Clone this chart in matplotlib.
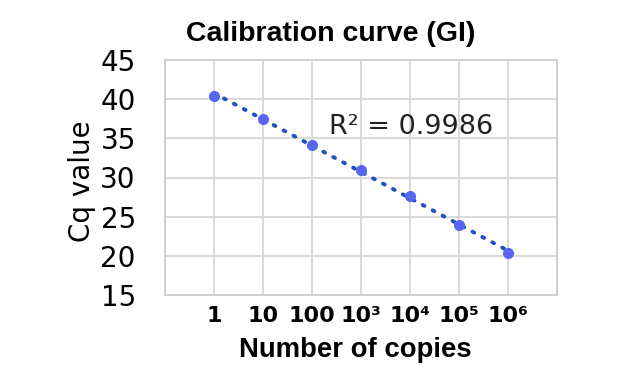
import numpy as np
import matplotlib
matplotlib.use("Agg")
import matplotlib.pyplot as plt

categories = ["1", "10", "100", "10³", "10⁴", "10⁵", "10⁶"]
cq_values = [40.4, 37.5, 34.2, 31.0, 27.6, 24.0, 20.3]
y_ticks = [15, 20, 25, 30, 35, 40, 45]
r2_text = "R² = 0.9986"

fig = plt.figure(figsize=(6.24, 3.73), dpi=100)
ax = fig.add_axes([165/624, 1-295/373, (557-165)/624, (295-60)/373])

x = np.arange(1, len(categories)+1)
coef = np.polyfit(x, cq_values, 1)
ax.plot(x, np.polyval(coef, x), linestyle=(0, (0.5, 2.4)), color="#1f4fc0",
        linewidth=2.8, dash_capstyle="round", zorder=3)
ax.plot(x, cq_values, "o", color="#5865f2", markersize=8, markeredgewidth=0, zorder=4)

ax.set_xlim(0, 8)
ax.set_ylim(15, 45)
ax.set_xticks(np.arange(0, 9), minor=False)
ax.set_xticklabels([""] + categories + [""])
ax.set_yticks(y_ticks)
ax.grid(True, color="#d9d9d9", linewidth=1.4)
ax.set_axisbelow(True)
for s in ax.spines.values():
    s.set_color("#d0d0d0")
    s.set_linewidth(1.4)
ax.tick_params(length=0)
ax.tick_params(axis="y", pad=21)
ax.tick_params(axis="x", pad=8)
for lab in ax.get_yticklabels():
    lab.set_fontsize(20)
    lab.set_family("DejaVu Sans")
for lab in ax.get_xticklabels():
    lab.set_fontsize(16)
    lab.set_fontweight("bold")
    lab.set_family("DejaVu Sans")

ax.text(3.35, 36.4, r2_text, fontsize=19.5, va="center", ha="left", family="DejaVu Sans", color="#222222")

fig.text(331/624, 1-34/373, "Calibration curve (GI)", ha="center", va="center",
         fontsize=20.5, fontweight="bold", family="Liberation Sans")
fig.text(82/624, 1-181/373, "Cq value", ha="center", va="center", rotation=90,
         fontsize=20, family="DejaVu Sans")
fig.text(355/624, 1-350/373, "Number of copies", ha="center", va="center",
         fontsize=19.8, fontweight="bold", family="Liberation Sans")

fig.savefig("out.png", dpi=100)
